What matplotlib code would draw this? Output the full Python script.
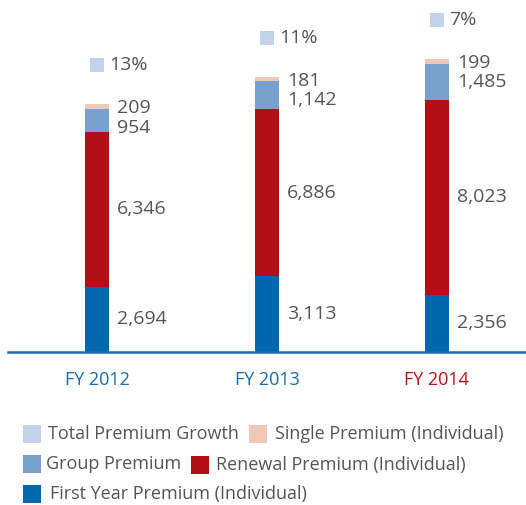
import matplotlib.pyplot as plt
from matplotlib.patches import Rectangle

plt.rcParams["font.family"] = ["Open Sans", "DejaVu Sans"]

# ===================================
# Data
# ===================================
years = ["FY 2012", "FY 2013", "FY 2014"]
first_year = [2694, 3113, 2356]
renewal = [6346, 6886, 8023]
group = [954, 1142, 1485]
single = [209, 181, 199]
growth = [13, 11, 7]

c_first = "#0067ac"
c_renewal = "#b20f17"
c_group = "#77a1cf"
c_single = "#f1c7b6"
c_growth = "#c3d2ea"
c_text = "#555555"

fig = plt.figure(figsize=(5.26, 5.05), dpi=100)
ax = fig.add_axes([8 / 526, 153 / 505, 518 / 526, 352 / 505])

x = list(range(len(years)))
w = 0.141

b2 = [a for a in first_year]
b3 = [a + b for a, b in zip(first_year, renewal)]
b4 = [a + b for a, b in zip(b3, group)]
totals = [a + b for a, b in zip(b4, single)]

ax.bar(x, first_year, w, color=c_first)
ax.bar(x, renewal, w, bottom=b2, color=c_renewal)
ax.bar(x, group, w, bottom=b3, color=c_group)
ax.bar(x, single, w, bottom=b4, color=c_single)

lx = 0.118
fs = 14
for i in x:
    ax.annotate(f"{first_year[i]:,}", (i + lx, first_year[i] / 2),
                va="center", ha="left", fontsize=fs, color=c_text)
    ax.annotate(f"{renewal[i]:,}", (i + lx, b2[i] + renewal[i] / 2),
                va="center", ha="left", fontsize=fs, color=c_text)
    ax.annotate(f"{single[i]:,}", (i + lx, totals[i]), xytext=(0, -3),
                textcoords="offset points",
                va="center", ha="left", fontsize=fs, color=c_text)
    ax.annotate(f"{group[i]:,}", (i + lx, totals[i]), xytext=(0, -17),
                textcoords="offset points",
                va="center", ha="left", fontsize=fs, color=c_text)
    # growth marker
    gy = totals[i] + 1620
    ax.plot(i, gy, marker="s", markersize=10.5, color=c_growth, mew=0)
    ax.annotate(f"{growth[i]}%", (i + 0.07, gy), va="center", ha="left",
                fontsize=fs, color=c_text)

ax.set_xlim(-0.524, 2.524)
ax.set_ylim(0, 14486)
ax.set_yticks([])
ax.set_xticks(x)
ax.set_xticklabels(years, fontsize=13)
for lab, col in zip(ax.get_xticklabels(), ["#1a6bb0", "#1a6bb0", "#b5121b"]):
    lab.set_color(col)
ax.tick_params(axis="x", length=0, pad=14)
for s in ["top", "right", "left"]:
    ax.spines[s].set_visible(False)
ax.spines["bottom"].set_color("#1a6bb0")
ax.spines["bottom"].set_linewidth(1.8)
ax.patch.set_visible(False)

# ===================================
# Legend (manual layout)
# ===================================
legend_items = [
    (23, 434, 48, c_growth, "Total Premium Growth"),
    (249, 434, 275, c_single, "Single Premium (Individual)"),
    (23, 464, 46, c_group, "Group Premium"),
    (191, 465, 216, c_renewal, "Renewal Premium (Individual)"),
    (23, 494, 50, c_first, "First Year Premium (Individual)"),
]
for sx, sy, tx, col, txt in legend_items:
    fig.add_artist(Rectangle((sx / 526, (505 - sy - 9) / 505), 18 / 526, 18 / 505,
                             transform=fig.transFigure, color=col, lw=0))
    fig.text(tx / 526, (505 - sy) / 505, txt, va="center", ha="left",
             fontsize=13, color=c_text)

plt.savefig("out.png", dpi=100)
plt.close()
